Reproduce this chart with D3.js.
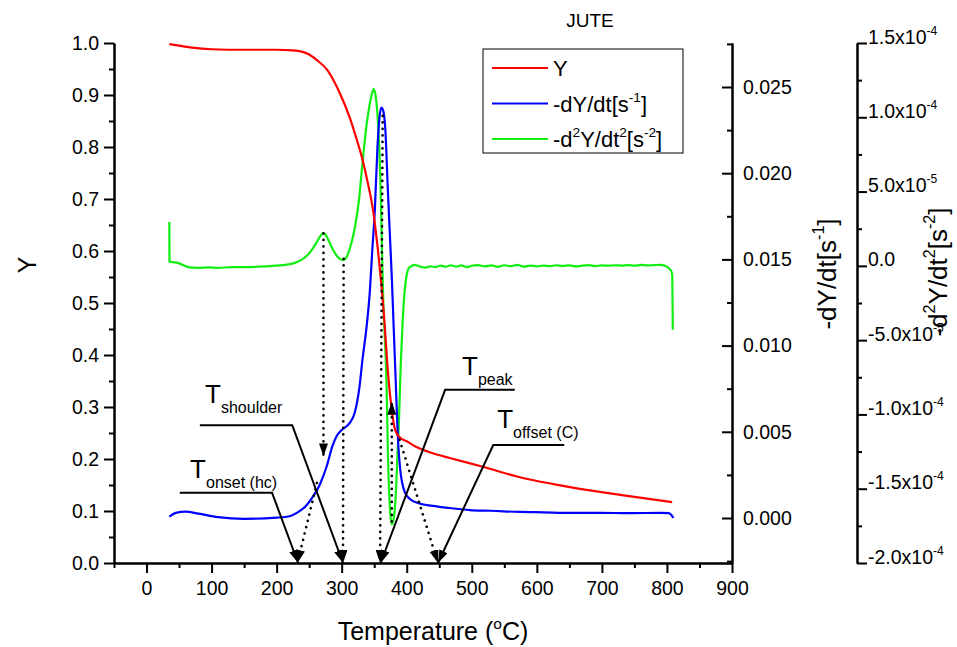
<!DOCTYPE html>
<html>
<head>
<meta charset="utf-8">
<script src="https://cdn.jsdelivr.net/npm/d3@7"></script>
<style>
  body { margin: 0; background: #fff; }
  svg { font-family: Arial, "Liberation Sans", sans-serif; }
</style>
</head>
<body>
<svg id="chart" width="957" height="647"></svg>
<script>
// ---- Thermogravimetric data for jute ----
// Mass fraction Y versus temperature (°C)
const tempY = [35, 50, 70, 100, 150, 200, 225, 240, 250, 262, 278, 297, 312, 323, 332, 340, 348, 355, 361, 366, 370, 374, 378, 381, 385, 389, 400, 415, 440, 466, 517, 574, 651, 728, 808];
const valY  = [0.998, 0.995, 0.991, 0.988, 0.987, 0.987, 0.986, 0.983, 0.978, 0.967, 0.948, 0.904, 0.858, 0.815, 0.776, 0.732, 0.680, 0.610, 0.535, 0.460, 0.385, 0.327, 0.285, 0.262, 0.248, 0.242, 0.234, 0.223, 0.211, 0.202, 0.185, 0.165, 0.146, 0.131, 0.117];

// First derivative -dY/dt (s^-1)
const tempD1 = [35, 45, 60, 80, 110, 150, 200, 220, 231, 245, 255, 266, 277, 286, 293, 300, 312, 320, 327, 332, 338, 343, 347, 351, 355, 358, 361, 364, 367, 371, 374, 377, 380, 383, 386, 390, 397, 405, 415, 440, 466, 497, 530, 574, 610, 651, 700, 740, 790, 803, 810];
const valD1  = [0.00008, 0.0003, 0.00037, 0.00025, 0.00005, -0.00005, 0.00002, 0.0001, 0.0003, 0.0007, 0.0012, 0.0019, 0.0030, 0.0042, 0.0048, 0.0051, 0.0055, 0.0061, 0.0075, 0.0092, 0.0110, 0.0130, 0.0155, 0.0179, 0.0215, 0.0232, 0.0238, 0.0236, 0.0226, 0.0190, 0.0165, 0.0140, 0.0110, 0.0080, 0.0050, 0.0028, 0.0015, 0.0011, 0.0009, 0.0007, 0.00058, 0.00046, 0.00042, 0.00035, 0.00033, 0.0003, 0.0003, 0.00028, 0.0003, 0.00028, 0.0000];

// Second derivative -d2Y/dt2 (s^-2)
const tempD2 = [35, 35.3, 40, 48, 55, 62, 70, 80, 95, 110, 130, 150, 170, 190, 205, 218, 228, 238, 248, 256, 263, 268, 272, 276, 281, 287, 293, 298, 303, 307, 312, 318, 323, 327, 330, 334, 338, 342, 346, 349, 352, 355, 358, 360, 362, 364, 367, 369, 371, 374, 377, 380, 383, 386, 388, 391, 394, 397, 400, 403,
  405, 412, 420, 428, 436, 444, 452, 460, 468, 476, 484, 492, 500, 510, 520, 530, 540, 550, 560, 570, 580, 590, 600, 610, 620, 630, 640, 650, 660, 670, 680, 690, 700, 710, 720, 730, 740, 750, 760, 770, 780, 790, 800, 805, 807, 808, 809];
const valD2  = [2.95e-5, 3.0e-6, 2.5e-6, 2.0e-6, 0.8e-6, -0.5e-6, -1.2e-6, -1.3e-6, -1.0e-6, -1.3e-6, -0.9e-6, -0.8e-6, -0.6e-6, -0.2e-6, 0.3e-6, 1.0e-6, 2.0e-6, 4.0e-6, 7.5e-6, 1.2e-5, 1.7e-5, 2.05e-5, 2.2e-5, 2.05e-5, 1.6e-5, 1.05e-5, 6.5e-6, 4.5e-6, 4.0e-6, 5.5e-6, 1.1e-5, 2.1e-5, 3.3e-5, 4.6e-5, 6.0e-5, 7.8e-5, 9.4e-5, 1.06e-4, 1.15e-4, 1.19e-4, 1.15e-4, 1.02e-4, 7.8e-5, 5.0e-5, 1.0e-5, -2.5e-5, -5.5e-5, -8.0e-5, -1.25e-4, -1.62e-4, -1.74e-4, -1.70e-4, -1.55e-4, -1.25e-4, -1.05e-4, -6.4e-5, -3.5e-5, -1.6e-5, -6e-6, -1.5e-6,
  -0.8e-6, 0.6e-6, -0.4e-6, -1.2e-6, -0.3e-6, -0.9e-6, 0.2e-6, -0.6e-6, 0.4e-6, -0.5e-6, 0.3e-6, -0.9e-6, 0.1e-6, 0.5e-6, -0.4e-6, 0.3e-6, -0.7e-6, 0.4e-6, -0.2e-6, 0.6e-6, -0.5e-6, 0.2e-6, -0.3e-6, 0.1e-6, -0.2e-6, 0.4e-6, -0.1e-6, 0.3e-6, -0.4e-6, 0.2e-6, 0.5e-6, -0.2e-6, 0.3e-6, 0.1e-6, 0.4e-6, 0.2e-6, 0.5e-6, 0.1e-6, 0.6e-6, 0.3e-6, 0.5e-6, 0.7e-6, -0.5e-6, -2.5e-6, -4.0e-6, -6.0e-6, -4.3e-5];

// Axis ticks
const xMajor = [0, 100, 200, 300, 400, 500, 600, 700, 800, 900];
const xMinor = [-50, 50, 150, 250, 350, 450, 550, 650, 750, 850];
const yMajor = [0, 0.1, 0.2, 0.3, 0.4, 0.5, 0.6, 0.7, 0.8, 0.9, 1.0];
const d1Major = [0, 0.005, 0.010, 0.015, 0.020, 0.025];
const d2Major = [-2.0e-4, -1.5e-4, -1.0e-4, -5.0e-5, 0, 5.0e-5, 1.0e-4, 1.5e-4];

// Characteristic temperatures: leader lines [T, Y] and their labels
const leaderNames = ["onset (hc)", "shoulder", "peak", "offset (C)"];
const leaderPaths = [
  [[51, 0.135], [193, 0.135], [233, 0]],
  [[82, 0.265], [224, 0.265], [302, 0]],
  [[566, 0.333], [459, 0.333], [360, 0]],
  [[642, 0.227], [533, 0.227], [448, 0]]
];
const leaderText = [[67, 0.163], [90, 0.308], [485, 0.3615], [539, 0.260]];

// Dotted arrows [from, to] in [T, Y]
const dotArrows = [
  [[272, 0.634], [272, 0.205]],
  [[303, 0.585], [302, 0]],
  [[363, 0.86], [359, 0]],
  [[377, 0.08], [377, 0.31]],
  [[389, 0.237], [448, 0]],
  [[262, 0.154], [232, 0]]
];

// ---- Layout ----
const svg = d3.select("#chart");
const m = { left: 114, top: 43, right: 225, bottom: 84 };
const W = 957 - m.left - m.right;
const H = 647 - m.top - m.bottom;
const g = svg.append("g").attr("transform", `translate(${m.left},${m.top})`);

const x = d3.scaleLinear().domain([-50, 900]).range([0, W]);
const yL = d3.scaleLinear().domain([0, 1]).range([H, 0]);
const yD1 = d3.scaleLinear().domain([-0.00261, 0.027552]).range([H, 0]);
const yD2 = d3.scaleLinear().domain([-2.0e-4, 1.5e-4]).range([H, 0]);

const tickFont = 19.5;

function styleAxis(sel) {
  sel.selectAll("path.domain").attr("stroke", "#000").attr("stroke-width", 2);
  sel.selectAll(".tick line").attr("stroke", "#000").attr("stroke-width", 2);
  sel.selectAll(".tick text").attr("font-size", tickFont).attr("fill", "#000").attr("font-family", "Arial, 'Liberation Sans', sans-serif");
}

// rich text: parts = [[string, "n"|"sup"|"sub"]]
function rich(textSel, parts, baseSize) {
  let shift = 0;
  parts.forEach(([s, kind]) => {
    const target = kind === "sup" ? -0.45 * baseSize : kind === "sub" ? 0.3 * baseSize : 0;
    textSel.append("tspan").text(s)
      .attr("dy", target - shift)
      .attr("font-size", kind === "n" ? baseSize : baseSize * 0.62);
    shift = target;
  });
}

// X axis
const gx = g.append("g").attr("transform", `translate(0,${H})`)
  .call(d3.axisBottom(x).tickValues(xMajor).tickSize(10).tickSizeOuter(0).tickPadding(8).tickFormat(d3.format("d")));
styleAxis(gx);
const gxm = g.append("g").attr("transform", `translate(0,${H})`)
  .call(d3.axisBottom(x).tickValues(xMinor).tickSize(5).tickSizeOuter(0).tickFormat(""));
styleAxis(gxm);

// Left Y axis
const gy = g.append("g")
  .call(d3.axisLeft(yL).tickValues(yMajor).tickSize(10).tickSizeOuter(0).tickPadding(5).tickFormat(d3.format(".1f")));
styleAxis(gy);
const gym = g.append("g")
  .call(d3.axisLeft(yL).tickValues(d3.range(0.05, 1, 0.1)).tickSize(5).tickSizeOuter(0).tickFormat(""));
styleAxis(gym);

// dY/dt axis on the right edge, ticks pointing inward
const gd1 = g.append("g").attr("transform", `translate(${W},0)`)
  .call(d3.axisRight(yD1).tickValues(d1Major).tickSize(-10).tickSizeOuter(0).tickPadding(11).tickFormat(d3.format(".3f")));
styleAxis(gd1);
const gd1m = g.append("g").attr("transform", `translate(${W},0)`)
  .call(d3.axisRight(yD1).tickValues([-0.0025, 0.0025, 0.0075, 0.0125, 0.0175, 0.0225, 0.0275]).tickSize(-5).tickSizeOuter(0).tickFormat(""));
styleAxis(gd1m);

// d2Y/dt2 axis offset further right
const off2 = 125;
const gd2 = g.append("g").attr("transform", `translate(${W + off2},0)`)
  .call(d3.axisRight(yD2).tickValues(d2Major).tickSize(10).tickSizeOuter(0).tickPadding(6).tickFormat(""));
styleAxis(gd2);
const gd2m = g.append("g").attr("transform", `translate(${W + off2},0)`)
  .call(d3.axisRight(yD2).tickValues(d3.range(-1.75e-4, 1.5e-4, 5e-5)).tickSize(5).tickSizeOuter(0).tickFormat(""));
styleAxis(gd2m);
gd2.selectAll(".tick").each(function(d) {
  const t = d3.select(this).select("text").text(null).attr("x", 11).attr("dy", "0.32em");
  if (d === 0) { rich(t, [["0.0", "n"]], tickFont); return; }
  const exp = Math.floor(Math.log10(Math.abs(d)) + 1e-9);
  const mant = d / Math.pow(10, exp);
  rich(t, [[mant.toFixed(1) + "x10", "n"], [String(exp), "sup"]], tickFont);
});

// ---- Curves ----
const lineY = d3.line().x((d, i) => x(tempY[i])).y(d => yL(d)).curve(d3.curveMonotoneX);
const lineD1 = d3.line().x((d, i) => x(tempD1[i])).y(d => yD1(d)).curve(d3.curveMonotoneX);
const lineD2 = d3.line().x((d, i) => x(tempD2[i])).y(d => yD2(d)).curve(d3.curveMonotoneX);

const plot = g.append("g");
plot.append("path").attr("d", lineD2(valD2)).attr("fill", "none").attr("stroke", "#11ee11").attr("stroke-width", 2.2);
plot.append("path").attr("d", lineD1(valD1)).attr("fill", "none").attr("stroke", "#0000ff").attr("stroke-width", 2.2);
plot.append("path").attr("d", lineY(valY)).attr("fill", "none").attr("stroke", "#ff0000").attr("stroke-width", 2.2);

// ---- Annotations ----
const defs = svg.append("defs");
defs.append("marker").attr("id", "head")
  .attr("viewBox", "0 0 13 9").attr("refX", 13).attr("refY", 4.5)
  .attr("markerWidth", 13).attr("markerHeight", 9)
  .attr("markerUnits", "userSpaceOnUse").attr("orient", "auto")
  .append("path").attr("d", "M0,0 L13,4.5 L0,9 Z").attr("fill", "#000");

const ann = g.append("g");
dotArrows.forEach(([a, b]) => {
  ann.append("line")
    .attr("x1", x(a[0])).attr("y1", yL(a[1]))
    .attr("x2", x(b[0])).attr("y2", yL(b[1]))
    .attr("stroke", "#000").attr("stroke-width", 2.6)
    .attr("stroke-linecap", "round").attr("stroke-dasharray", "0.1,6.4")
    .attr("marker-end", "url(#head)");
});

const lineP = d3.line().x(d => x(d[0])).y(d => yL(d[1]));
leaderPaths.forEach((p, i) => {
  ann.append("path").attr("d", lineP(p)).attr("fill", "none")
    .attr("stroke", "#000").attr("stroke-width", 2)
    .attr("marker-end", "url(#head)");
  const t = ann.append("text")
    .attr("x", x(leaderText[i][0])).attr("y", yL(leaderText[i][1]))
    .attr("fill", "#000");
  t.append("tspan").text("T").attr("font-size", 26);
  t.append("tspan").text(leaderNames[i]).attr("font-size", 16).attr("dy", 10);
});

// ---- Titles ----
svg.append("text").attr("x", 590).attr("y", 27).attr("text-anchor", "middle")
  .attr("font-size", 19).text("JUTE");

svg.append("text").attr("transform", `translate(36,265) rotate(-90)`)
  .attr("text-anchor", "middle").attr("font-size", 25).text("Y");

const xt = svg.append("text").attr("x", 433).attr("y", 640).attr("text-anchor", "middle");
rich(xt, [["Temperature (", "n"], ["o", "sup"], ["C)", "n"]], 25);

const t1 = svg.append("text").attr("transform", `translate(836,274) rotate(-90)`)
  .attr("text-anchor", "middle");
rich(t1, [["-dY/dt[s", "n"], ["-1", "sup"], ["]", "n"]], 26);

const t2 = svg.append("text").attr("transform", `translate(947,272) rotate(-90)`)
  .attr("text-anchor", "middle");
rich(t2, [["-d", "n"], ["2", "sup"], ["Y/dt", "n"], ["2", "sup"], ["[s", "n"], ["-2", "sup"], ["]", "n"]], 26);

// ---- Legend ----
const lg = svg.append("g");
lg.append("rect").attr("x", 483).attr("y", 49).attr("width", 200).attr("height", 104)
  .attr("fill", "#fff").attr("stroke", "#000").attr("stroke-width", 1);
const legendItems = [
  { color: "#ff0000", parts: [["Y", "n"]] },
  { color: "#0000ff", parts: [["-dY/dt[s", "n"], ["-1", "sup"], ["]", "n"]] },
  { color: "#11ee11", parts: [["-d", "n"], ["2", "sup"], ["Y/dt", "n"], ["2", "sup"], ["[s", "n"], ["-2", "sup"], ["]", "n"]] }
];
legendItems.forEach((it, i) => {
  const yy = 68 + i * 35.5;
  lg.append("line").attr("x1", 492).attr("x2", 548).attr("y1", yy).attr("y2", yy)
    .attr("stroke", it.color).attr("stroke-width", 2);
  const t = lg.append("text").attr("x", 553).attr("y", yy + 8);
  rich(t, it.parts, 22);
});
</script>
</body>
</html>
